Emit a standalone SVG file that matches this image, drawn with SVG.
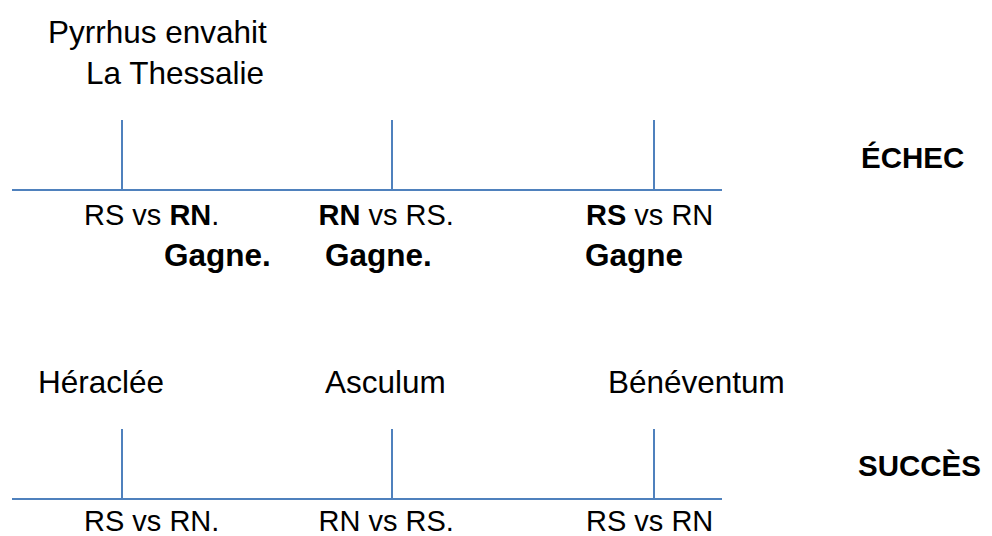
<svg xmlns="http://www.w3.org/2000/svg" width="992" height="536" viewBox="0 0 992 536">
<style>
text{font-family:"Liberation Sans",Arial,sans-serif;fill:#000}
.big{font-size:31.5px}
.lab{font-size:29px}
.b{font-weight:bold}
.gag{font-size:31.5px;font-weight:bold}
.hd{font-size:29.5px;font-weight:bold}
.ln{stroke:#4f81bd;stroke-width:2;fill:none}
</style>
<rect width="992" height="536" fill="#fff"/>
<g id="connectors">
<line class="ln" x1="12" y1="190" x2="722" y2="190"/>
<line class="ln" x1="122" y1="120" x2="122" y2="190"/>
<line class="ln" x1="392" y1="120" x2="392" y2="190"/>
<line class="ln" x1="654" y1="120" x2="654" y2="190"/>
<line class="ln" x1="12" y1="499" x2="722" y2="499"/>
<line class="ln" x1="122" y1="429" x2="122" y2="499"/>
<line class="ln" x1="392" y1="429" x2="392" y2="499"/>
<line class="ln" x1="654" y1="429" x2="654" y2="499"/>
</g>
<g id="pyrrhus">
<text class="big" x="48" y="43">Pyrrhus envahit</text>
<text class="big" x="86" y="84">La Thessalie</text>
</g>
<g id="echec"><text class="hd" x="861" y="168">ÉCHEC</text></g>
<g id="succes"><text class="hd" x="858" y="476">SUCCÈS</text></g>
<g id="top1">
<text class="lab" x="84" y="225">RS vs <tspan class="b">RN</tspan>.</text>
<text class="gag" x="164" y="266">Gagne.</text>
</g>
<g id="top2">
<text class="lab" x="318.5" y="225"><tspan class="b">RN</tspan> vs RS.</text>
<text class="gag" x="325" y="266">Gagne.</text>
</g>
<g id="top3">
<text class="lab" x="586" y="225"><tspan class="b">RS</tspan> vs RN</text>
<text class="gag" x="585" y="266">Gagne</text>
</g>
<g id="heraclee"><text class="big" x="38" y="393">Héraclée</text></g>
<g id="asculum"><text class="big" x="325" y="393">Asculum</text></g>
<g id="beneventum"><text class="big" x="608" y="393">Bénéventum</text></g>
<g id="bot1"><text class="lab" x="84" y="531">RS vs RN.</text></g>
<g id="bot2"><text class="lab" x="318.5" y="531">RN vs RS.</text></g>
<g id="bot3"><text class="lab" x="586" y="531">RS vs RN</text></g>
</svg>
